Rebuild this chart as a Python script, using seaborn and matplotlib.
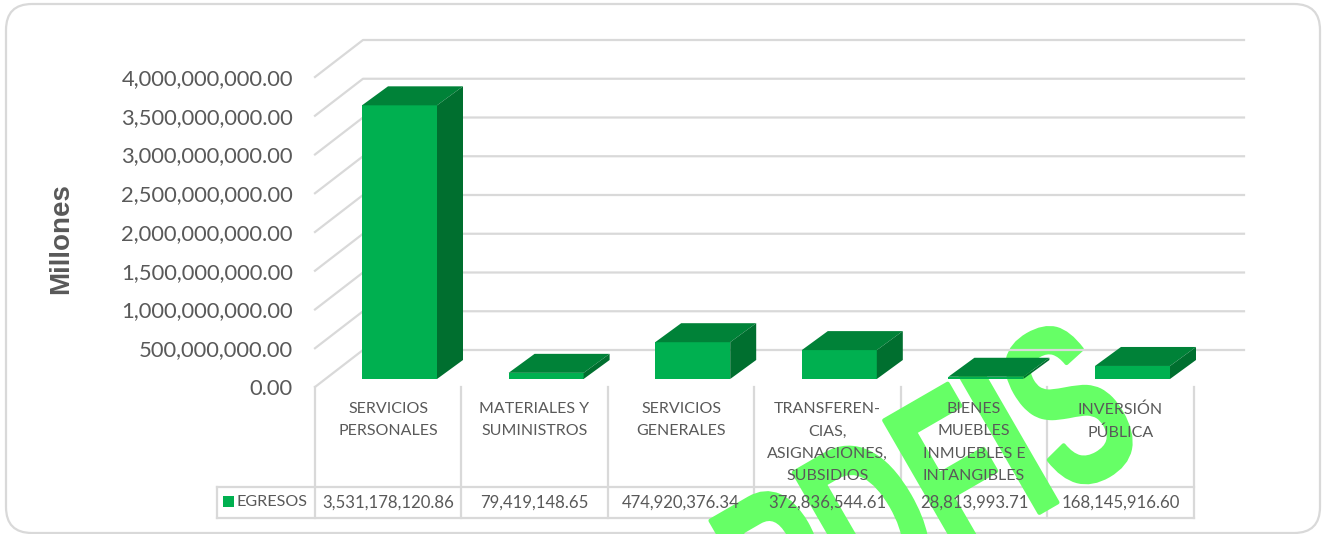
import matplotlib
matplotlib.use("Agg")
import matplotlib.pyplot as plt
import pandas as pd
import seaborn as sns
from matplotlib.patches import FancyBboxPatch, Polygon, Rectangle
from matplotlib.patheffects import AbstractPathEffect
from matplotlib.transforms import Affine2D, ScaledTranslation

categorias = ["SERVICIOS\nPERSONALES", "MATERIALES Y\nSUMINISTROS", "SERVICIOS\nGENERALES",
              "TRANSFEREN-\nCIAS,\nASIGNACIONES,\nSUBSIDIOS", "BIENES\nMUEBLES\nINMUEBLES E\nINTANGIBLES",
              "INVERSIÓN\nPÚBLICA"]
egresos = [3531178120.86, 79419148.65, 474920376.34, 372836544.61, 28813993.71, 168145916.60]
etiquetas_valor = ["3,531,178,120.86", "79,419,148.65", "474,920,376.34",
                   "372,836,544.61", "28,813,993.71", "168,145,916.60"]
marcas_y = [0, 5e8, 1e9, 1.5e9, 2e9, 2.5e9, 3e9, 3.5e9, 4e9]
etiquetas_y = ["0.00", "500,000,000.00", "1,000,000,000.00", "1,500,000,000.00", "2,000,000,000.00",
               "2,500,000,000.00", "3,000,000,000.00", "3,500,000,000.00", "4,000,000,000.00"]

W, H = 1322, 534
VERDE, VERDE_TOP, VERDE_LADO = "#00B050", "#008238", "#006F2F"
GRIS, TEXTO = "#D9D9D9", "#595959"
plt.rcParams["font.family"] = ["Lato", "DejaVu Sans"]


class Estrecha(AbstractPathEffect):
    # angosta el texto a lo largo de su linea base y engrosa el trazo
    def __init__(self, sx, grosor):
        super().__init__()
        self.sx = sx
        self.grosor = grosor

    def draw_path(self, renderer, gc, tpath, affine, rgbFace=None):
        gc0 = renderer.new_gc()
        gc0.copy_properties(gc)
        gc0.set_linewidth(self.grosor)
        gc0.set_foreground(rgbFace)
        renderer.draw_path(gc0, tpath, Affine2D().scale(self.sx, 1) + affine, rgbFace)
        gc0.restore()


df = pd.DataFrame({"categoria": categorias, "egresos": egresos})

fig = plt.figure(figsize=(W / 100, H / 100), dpi=100, facecolor="white")

# fondo en pixeles: marco y marca de agua
bg = fig.add_axes([0, 0, 1, 1], zorder=0)
bg.set_xlim(0, W)
bg.set_ylim(H, 0)
bg.axis("off")
bg.add_patch(FancyBboxPatch((6, 4), 1314, 529, boxstyle="round,pad=0,rounding_size=26",
                            fc="white", ec=GRIS, lw=1.6))
bg.text(781, 662, "PDFIS", color="#66FF66", fontsize=165, fontweight="bold", family="Liberation Sans",
        rotation=30, rotation_mode="anchor", ha="left", va="baseline", path_effects=[Estrecha(0.63, 3)])

# ejes principales, ubicados sobre el plano frontal de las barras
paso = 146.6
x0, y0 = 399.5, 379
esc = 77.5 / 1e9
ax = fig.add_axes([(x0 - paso / 2) / W, (H - y0) / H, 6 * paso / W, 4e9 * esc / H], zorder=1)
ax.patch.set_alpha(0)
sns.barplot(data=df, x="categoria", y="egresos", color=VERDE, saturation=1, width=75 / paso, ax=ax, zorder=3)
ax.set_xlim(-0.5, 5.5)
ax.set_ylim(0, 4e9)
sns.despine(ax=ax, left=True, bottom=True)
ax.set_xlabel("")
ax.set_ylabel("")
ax.set_xticks([])
ax.set_yticks(marcas_y)
ax.set_yticklabels(etiquetas_y, fontsize=15.85, color=TEXTO)
ax.tick_params(axis="y", length=0, pad=24)
bajar = ScaledTranslation(0, -8 / 100, fig.dpi_scale_trans)
for t in ax.get_yticklabels():
    t.set_verticalalignment("center_baseline")
    t.set_transform(t.get_transform() + bajar)
bg.text(61, 239, "Millones", rotation=90, ha="center", va="center", fontsize=20, fontweight="bold",
        color=TEXTO, family="Liberation Sans", zorder=3)


def px(x, y):
    # pixel -> datos
    return (x - x0) / paso, (y0 - y) / esc


# rejilla en perspectiva
for v in marcas_y:
    yf = y0 + 8 - v * esc
    ax.plot(*zip(px(315, yf), px(363, yf - 37), px(1244, yf - 37)), color=GRIS, lw=1.6, clip_on=False, zorder=1)

# caras superior y lateral de cada barra
dx, dy = 26 / paso, 19 / esc
for barra in ax.patches:
    x1, x2 = barra.get_x(), barra.get_x() + barra.get_width()
    alto = barra.get_height()
    ax.add_patch(Polygon([(x1, alto), (x2, alto), (x2 + dx, alto + dy), (x1 + dx, alto + dy)],
                         fc=VERDE_TOP, ec="none", clip_on=False, zorder=4))
    ax.add_patch(Polygon([(x2, 0), (x2 + dx, dy), (x2 + dx, alto + dy), (x2, alto)],
                         fc=VERDE_LADO, ec="none", clip_on=False, zorder=4))

# tabla de datos
tabla = [
    ([315, 315], [387, 518]), ([461, 461], [387, 518]), ([608, 608], [387, 518]), ([754, 754], [387, 518]),
    ([901, 901], [387, 518]), ([1047, 1047], [387, 518]), ([1194, 1194], [387, 518]),
    ([217, 1194], [487, 487]), ([217, 1194], [518, 518]), ([217, 217], [487, 518]),
]
for xs, ys in tabla:
    bg.plot(xs, ys, color=GRIS, lw=1.6, zorder=2)
for i, (cat, val) in enumerate(zip(categorias, etiquetas_valor)):
    cx = 388 + i * 146.5
    bg.text(cx, 402, cat, ha="center", va="top", fontsize=11.5, color=TEXTO, linespacing=1.77, zorder=3)
    bg.text(cx, 502.5, val, ha="center", va="center", fontsize=12.1, color=TEXTO, zorder=3)
bg.add_patch(Rectangle((223, 496), 11, 11, fc=VERDE, ec="none", zorder=3))
bg.text(237, 501.5, "EGRESOS", ha="left", va="center", fontsize=11.6, color=TEXTO, zorder=3)

fig.savefig("out.png", dpi=100)
